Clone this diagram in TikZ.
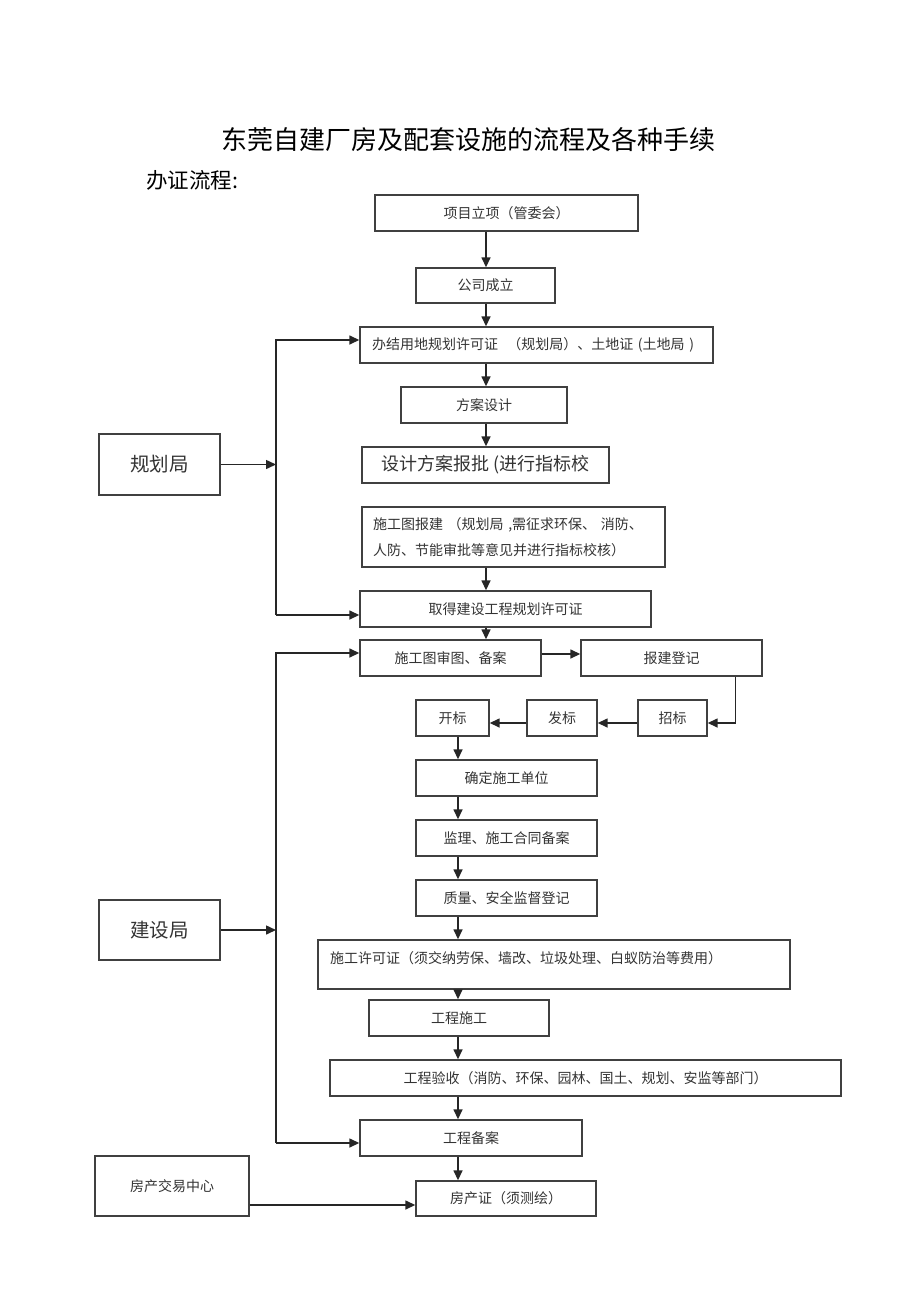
\documentclass[tikz,border=0pt]{standalone}
\usepackage{fontspec}
\newfontfamily\cjk{Noto Sans CJK SC}
\usetikzlibrary{arrows.meta}
\begin{document}
\begin{tikzpicture}[x=1pt,y=-1pt,
 box/.style={draw=black!75, line width=1.4pt, inner sep=0pt, font=\cjk\fontsize{14}{16}\selectfont, text=black!80},
 txt/.style={inner sep=0pt, font=\cjk\fontsize{14}{16}\selectfont, text=black!80},
 arr/.style={draw=black!85, line width=1.5pt, -{Triangle[length=10pt,width=9pt]}},
 ln/.style={draw=black!85, line width=1.5pt}]
\path[use as bounding box] (0,0) rectangle (920,1303);
\coordinate (c1) at (486,0);
\coordinate (c2) at (458,0);
\coordinate (b1) at (276,0);
% titles
\node[inner sep=0pt, font=\cjk\fontsize{26}{30}\selectfont] (title) at (468,140) {东莞自建厂房及配套设施的流程及各种手续};
\node[inner sep=0pt, anchor=west, font=\cjk\fontsize{21.5}{25}\selectfont] (sub) at (146,180) {办证流程:};
% main column
\node[box, minimum width=263pt, minimum height=36pt] (p1) at (506.5,213) {项目立项（管委会）};
\node[box, minimum width=139pt, minimum height=35pt] (p2) at (485.5,285.5) {公司成立};
\node[box, minimum width=353pt, minimum height=36pt, text width=329pt, align=left] (p3) at (536.5,345) {办结用地规划许可证\ \ （规划局）、土地证 (土地局 )};
\node[box, minimum width=166pt, minimum height=36pt] (p4) at (484,405) {方案设计};
\node[box, minimum width=247pt, minimum height=36pt, font=\cjk\fontsize{18}{20}\selectfont] (p5) at (485.5,465) {设计方案报批 (进行指标校};
\node[box, minimum width=303pt, minimum height=60pt, text width=281pt, align=left, font=\cjk\fontsize{14}{26}\selectfont] (p6) at (513.5,537) {施工图报建\ （规划局 ,需征求环保、\ 消防、\\人防、节能审批等意见并进行指标校核）};
\node[box, minimum width=291pt, minimum height=36pt] (p7) at (505.5,609) {取得建设工程规划许可证};
\node[box, minimum width=181pt, minimum height=36pt] (p8) at (450.5,658) {施工图审图、备案};
\node[box, minimum width=181pt, minimum height=36pt] (p9) at (671.5,658) {报建登记};
\node[box, minimum width=73pt, minimum height=36pt] (kb) at (452.5,718) {开标};
\node[box, minimum width=70pt, minimum height=36pt] (fb) at (562,718) {发标};
\node[box, minimum width=69pt, minimum height=36pt] (zb) at (672.5,718) {招标};
\node[box, minimum width=181pt, minimum height=36pt] (q1) at (506.5,778) {确定施工单位};
\node[box, minimum width=181pt, minimum height=36pt] (q2) at (506.5,838) {监理、施工合同备案};
\node[box, minimum width=181pt, minimum height=36pt] (q3) at (506.5,898) {质量、安全监督登记};
\node[box, minimum width=472pt, minimum height=49pt] (q4) at (554,964.5) {};
\node[txt, anchor=west] (q4t) at (330,958) {施工许可证（须交纳劳保、墙改、垃圾处理、白蚁防治等费用）};
\node[box, minimum width=180pt, minimum height=36pt] (q5) at (459,1018) {工程施工};
\node[box, minimum width=511pt, minimum height=36pt] (q6) at (585.5,1078) {工程验收（消防、环保、园林、国土、规划、安监等部门）};
\node[box, minimum width=222pt, minimum height=36pt] (q7) at (471,1138) {工程备案};
\node[box, minimum width=180pt, minimum height=35pt] (q8) at (506,1198.5) {房产证（须测绘）};
% side boxes
\node[box, minimum width=154pt, minimum height=60pt] (fc) at (172,1186) {房产交易中心};
\node[box, minimum width=121pt, minimum height=61pt, font=\cjk\fontsize{19.5}{22}\selectfont] (gh) at (159.5,464.5) {规划局};
\node[box, minimum width=121pt, minimum height=60pt, font=\cjk\fontsize{19.5}{22}\selectfont] (js) at (159.5,930) {建设局};
% main arrows
\draw[arr] (p1.south -| c1) -- (p2.north -| c1);
\draw[arr] (p2.south -| c1) -- (p3.north -| c1);
\draw[arr] (p3.south -| c1) -- (p4.north -| c1);
\draw[arr] (p4.south -| c1) -- (p5.north -| c1);
\draw[arr] (p6.south -| c1) -- (p7.north -| c1);
\draw[arr] (p7.south -| c1) -- (p8.north -| c1);
\draw[arr] ([yshift=4pt]p8.east) -- ([yshift=4pt]p9.west);
\draw[arr] ([xshift=64pt]p9.south) |- ([yshift=-5pt]zb.east);
\draw[arr] ([yshift=-5pt]zb.west) -- ([yshift=-5pt]fb.east);
\draw[arr] ([yshift=-5pt]fb.west) -- ([yshift=-5pt]kb.east);
\draw[arr] (kb.south -| c2) -- (q1.north -| c2);
\draw[arr] (q1.south -| c2) -- (q2.north -| c2);
\draw[arr] (q2.south -| c2) -- (q3.north -| c2);
\draw[arr] (q3.south -| c2) -- (q4.north -| c2);
\draw[arr] (q4.south -| c2) -- (q5.north -| c2);
\draw[arr] (q5.south -| c2) -- (q6.north -| c2);
\draw[arr] (q6.south -| c2) -- (q7.north -| c2);
\draw[arr] (q7.south -| c2) -- (q8.north -| c2);
% left brackets
\draw[arr] (gh.east) -- (gh.east -| b1);
\draw[arr] ([yshift=-6pt]p7.west -| b1) |- ([yshift=5pt]p3.west);
\draw[arr] ([yshift=-6pt]p7.west -| b1) -- ([yshift=-6pt]p7.west);
\draw[arr] (js.east) -- (js.east -| b1);
\draw[arr] ([yshift=-5pt]q7.west -| b1) |- ([yshift=5pt]p8.west);
\draw[arr] ([yshift=-5pt]q7.west -| b1) -- ([yshift=-5pt]q7.west);
\draw[arr] ([yshift=-19pt]fc.east) -- ([yshift=-19pt]fc.east -| q8.west);
\end{tikzpicture}
\end{document}
